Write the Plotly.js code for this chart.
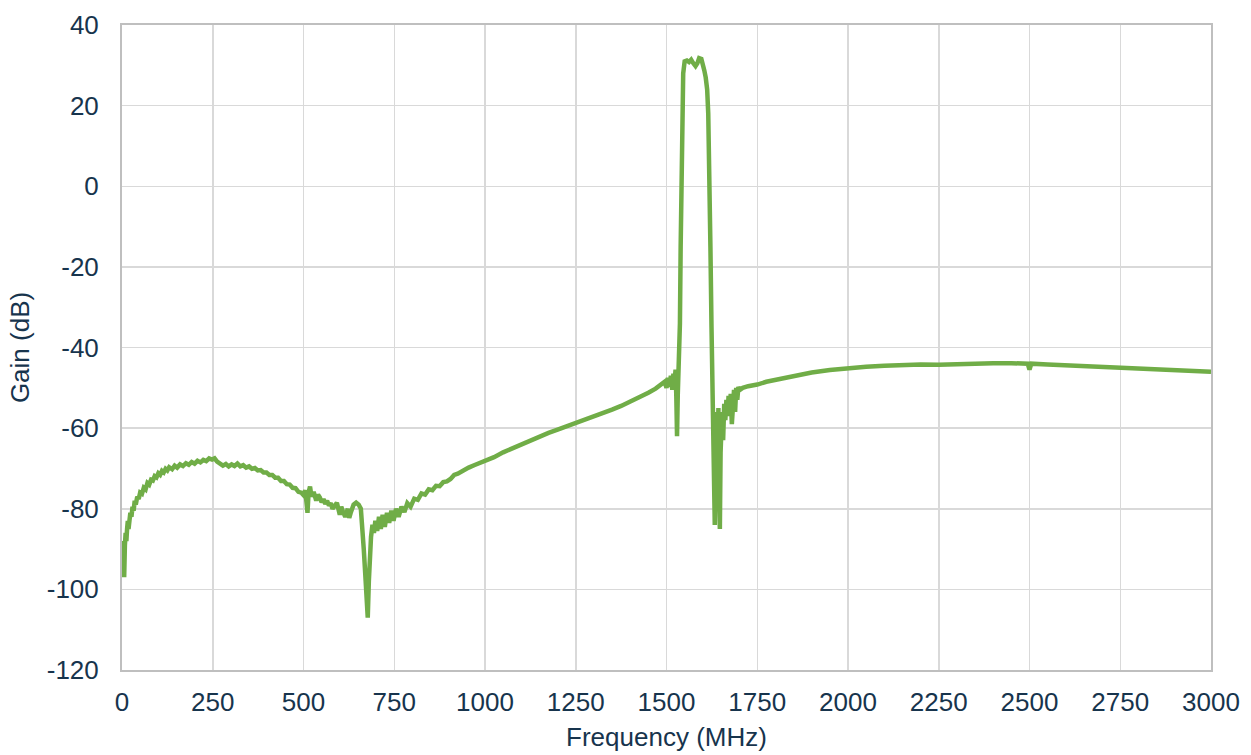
<!DOCTYPE html>
<html><head><meta charset="utf-8">
<script src="https://cdn.plot.ly/plotly-3.0.1.min.js"></script>
<style>html,body{margin:0;padding:0;background:#fff}#chart{width:1251px;height:755px}</style>
</head><body><div id="chart"></div>
<script>
const freqMHz = [5,6,7,8,10,12,14,16,18,20,23,26,29,32,35,38,42,46,50,55,60,65,70,75,80,85,90,95,100,105,110,115,120,125,130,138,145,152,160,168,176,184,192,200,208,216,224,232,240,248,255,262,270,278,286,294,302,310,318,326,334,342,350,358,366,374,382,390,398,406,414,422,430,438,446,454,462,470,478,486,494,500,505,508,511,514,518,522,528,535,540,545,550,555,560,565,570,575,580,585,592,600,604,608,615,622,626,630,638,645,652,658,662,666,670,674,677,680,683,686,690,694,698,703,708,713,718,724,730,736,742,748,755,762,770,778,786,795,805,815,825,835,845,855,865,875,885,895,905,915,925,940,955,970,985,1000,1025,1050,1075,1100,1125,1150,1175,1200,1225,1250,1275,1300,1325,1350,1375,1400,1425,1450,1470,1485,1495,1500,1504,1508,1512,1516,1519,1522,1525,1527,1529,1531,1533,1535,1537,1539,1541,1543,1546,1550,1556,1562,1568,1574,1580,1585,1590,1596,1600,1604,1608,1612,1615,1618,1621,1624,1627,1629,1631,1633,1635,1637,1639,1641,1643,1645,1647,1649,1651,1653,1656,1659,1662,1665,1668,1671,1674,1677,1680,1683,1686,1689,1692,1695,1698,1702,1710,1725,1750,1775,1800,1825,1850,1875,1900,1950,2000,2050,2100,2150,2200,2250,2300,2350,2400,2450,2495,2500,2505,2550,2600,2650,2700,2750,2800,2850,2900,2950,3000];
const gainDb = [-88,-97,-92,-89,-86,-88,-85,-83,-85,-83.5,-81,-82,-79.5,-80.5,-78,-79,-77,-77.6,-76,-76.3,-74.8,-75.2,-73.6,-74,-72.8,-73,-71.9,-72.2,-71.2,-71.6,-70.6,-71,-70.1,-70.5,-69.7,-70.2,-69.3,-69.8,-69,-69.4,-68.7,-69.1,-68.4,-68.8,-68.1,-68.5,-67.9,-68.2,-67.5,-67.8,-67.5,-68.3,-68.8,-69.3,-68.9,-69.5,-69,-69.4,-68.8,-69.5,-69.2,-69.8,-69.5,-70.1,-69.9,-70.5,-70.4,-71,-71,-71.6,-71.6,-72.3,-72.3,-73.1,-73.1,-73.9,-74,-74.8,-74.9,-75.8,-76,-76.6,-75.4,-79,-81,-76,-74.5,-77,-75.8,-78,-76.5,-77.2,-78.4,-77.6,-78.8,-78,-79.2,-78.6,-80,-79.4,-78.5,-81.5,-79.5,-80.5,-82,-80,-82.3,-81,-79,-78.5,-79,-80,-84,-90,-96,-104,-107,-98,-90,-87,-84,-86,-83,-85.5,-82,-85,-81.5,-84.5,-81,-83.5,-80.5,-83,-80,-82,-79.5,-80.8,-78.6,-79.5,-77.5,-77.8,-76.2,-76.5,-75.2,-75.4,-74.3,-74.4,-73.4,-73.2,-72.6,-71.6,-71.3,-70.4,-69.8,-69.2,-68.7,-68.2,-67.2,-66,-65,-64,-63,-62,-61.2,-60.4,-59.6,-58.8,-58,-57.2,-56.3,-55.4,-54.5,-53.5,-52.4,-51.2,-50.2,-49.3,-48.5,-50,-47.5,-49.8,-47,-50.5,-46.5,-48.5,-45.5,-52,-62,-52,-47,-45,-34,-15,5,20,28,31,31.2,30.8,31.4,30.5,29.8,30.5,31.8,31.6,30.6,28.8,27,24,18,5,-15,-35,-50,-58,-70,-84,-62,-56,-72,-60,-55,-78,-85,-66,-60,-56,-63,-54,-58,-53,-57,-52,-55,-51.5,-59,-52,-50.5,-56,-50,-53,-49.8,-50.5,-50,-49.6,-49.2,-48.5,-48,-47.5,-47,-46.6,-46.2,-45.6,-45.1,-44.8,-44.5,-44.3,-44.2,-44.3,-44.1,-43.9,-43.9,-43.9,-44,-45.5,-44,-44.2,-44.4,-44.6,-44.9,-45.1,-45.3,-45.5,-45.7,-45.8,-46];
const xTicks = [0,250,500,750,1000,1250,1500,1750,2000,2250,2500,2750,3000];
const yTicks = [-120,-100,-80,-60,-40,-20,0,20,40];

const txt = '#17344D';
const font = {family: 'Liberation Sans, Arial, sans-serif', size: 26, color: txt};
Plotly.newPlot('chart', [{
  x: freqMHz, y: gainDb, type: 'scatter', mode: 'lines',
  line: {color: '#70AD47', width: 4.5}, hoverinfo: 'skip'
}], {
  width: 1251, height: 755,
  margin: {l: 122, r: 40, t: 25, b: 85},
  paper_bgcolor: '#fff', plot_bgcolor: '#fff',
  font: font, showlegend: false,
  xaxis: {
    range: [0, 3000], tickvals: xTicks, ticktext: xTicks.map(String),
    showgrid: true, gridcolor: '#d9d9d9', gridwidth: 1.5,
    showline: true, linecolor: '#bfbfbf', linewidth: 2, mirror: true,
    zeroline: false, ticks: '', ticklabelstandoff: 8,
    tickfont: font,
    title: {text: 'Frequency (MHz)', font: font, standoff: 12}
  },
  yaxis: {
    range: [-120, 40], tickvals: yTicks, ticktext: yTicks.map(String),
    showgrid: true, gridcolor: '#d9d9d9', gridwidth: 1.5,
    showline: true, linecolor: '#bfbfbf', linewidth: 2, mirror: true,
    zeroline: false, ticks: '', ticklabelstandoff: 16,
    tickfont: font,
    title: {text: 'Gain (dB)', font: font, standoff: 10}
  }
}, {staticPlot: true, displayModeBar: false});
</script></body></html>
